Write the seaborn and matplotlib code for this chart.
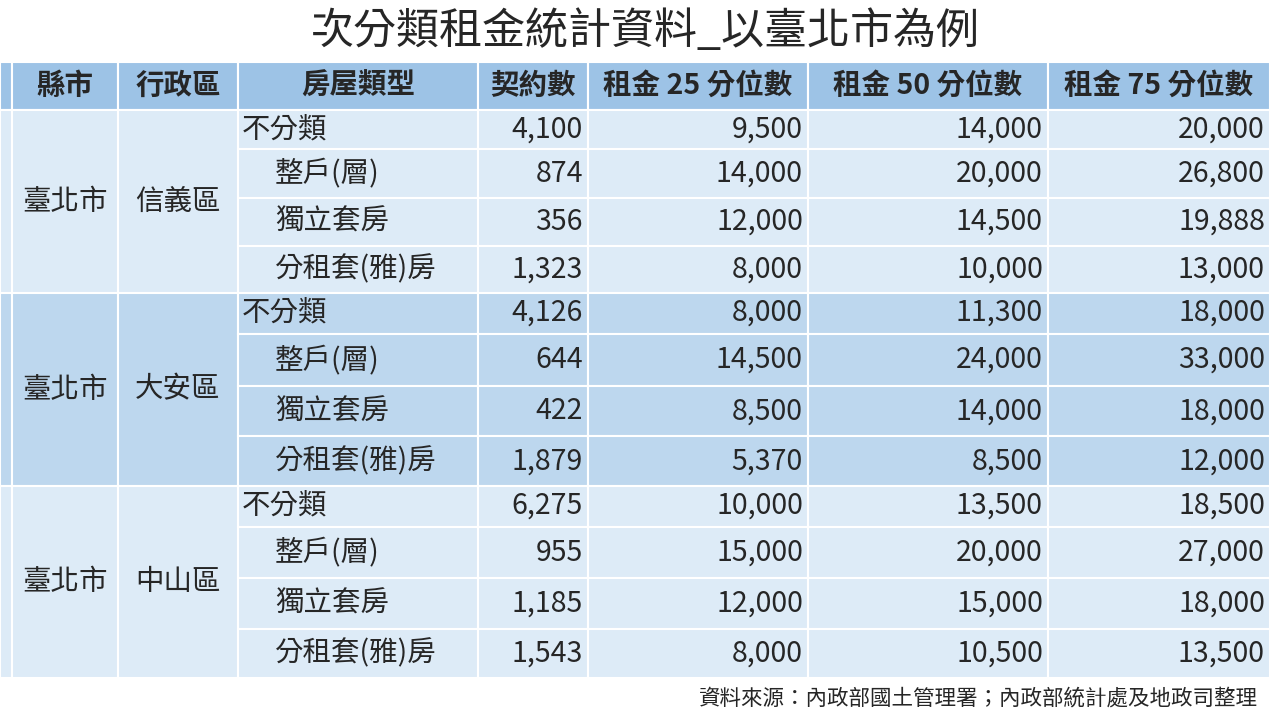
import matplotlib
matplotlib.use("Agg")
import matplotlib.pyplot as plt
import seaborn as sns
from matplotlib.patches import Rectangle

sns.set_style("white")
plt.rcParams['font.family'] = ['Noto Sans CJK TC', 'DejaVu Sans']

title = "次分類租金統計資料_以臺北市為例"
source = "資料來源：內政部國土管理署；內政部統計處及地政司整理"
headers = ["", "縣市", "行政區", "房屋類型", "契約數", "租金 25 分位數", "租金 50 分位數", "租金 75 分位數"]
cities = ["臺北市", "臺北市", "臺北市"]
districts = ["信義區", "大安區", "中山區"]
house_types = ["不分類", "整戶(層)", "獨立套房", "分租套(雅)房"]
contracts = [[4100, 874, 356, 1323], [4126, 644, 422, 1879], [6275, 955, 1185, 1543]]
p25 = [[9500, 14000, 12000, 8000], [8000, 14500, 8500, 5370], [10000, 15000, 12000, 8000]]
p50 = [[14000, 20000, 14500, 10000], [11300, 24000, 14000, 8500], [13500, 20000, 15000, 10500]]
p75 = [[20000, 26800, 19888, 13000], [18000, 33000, 18000, 12000], [18500, 27000, 18000, 13500]]

# layout in pixels
col_x = [0, 12, 118, 238, 478, 588, 808, 1048, 1270]
header_top, header_bot = 62, 110
group_tops = [110, 293, 486, 678]
sub_frac = [0, 39 / 183, 88 / 183, 136 / 183, 1]
c_head, c_light, c_dark = "#9DC3E6", "#DDEBF7", "#BDD7EE"
fs = 20.5

fig = plt.figure(figsize=(12.8, 7.2), dpi=100)
ax = fig.add_axes([0, 0, 1, 1])
ax.set_xlim(0, 1280)
ax.set_ylim(720, 0)
ax.axis("off")

def cell(x0, x1, y0, y1, color):
    ax.add_patch(Rectangle((x0, y0), x1 - x0, y1 - y0, facecolor=color,
                           edgecolor="white", linewidth=1.5))

ax.text(645, 32, title, ha="center", va="center", fontsize=31)

# header
for i, h in enumerate(headers):
    cell(col_x[i], col_x[i + 1], header_top, header_bot, c_head)
    if h:
        ax.text((col_x[i] + col_x[i + 1]) / 2, (header_top + header_bot) / 2, h,
                ha="center", va="center", fontsize=fs, fontweight="bold")

for g in range(3):
    color = c_light if g % 2 == 0 else c_dark
    gt, gb = group_tops[g], group_tops[g + 1]
    for i in range(3):
        cell(col_x[i], col_x[i + 1], gt, gb, color)
    ax.text((col_x[1] + col_x[2]) / 2, (gt + gb) / 2, cities[g], ha="center", va="center", fontsize=fs)
    ax.text((col_x[2] + col_x[3]) / 2, (gt + gb) / 2, districts[g], ha="center", va="center", fontsize=fs)
    ys = [gt + f * (gb - gt) for f in sub_frac]
    for r in range(4):
        y0, y1 = ys[r], ys[r + 1]
        ym = (y0 + y1) / 2 if r > 0 else y0 + 20
        for i in range(3, 8):
            cell(col_x[i], col_x[i + 1], y0, y1, color)
        ax.text(242 if r == 0 else 275, ym, house_types[r], ha="left", va="center", fontsize=fs)
        vals = [contracts[g][r], p25[g][r], p50[g][r], p75[g][r]]
        for k, v in enumerate(vals):
            ax.text(col_x[k + 5] - 5, ym, f"{v:,}", ha="right", va="center", fontsize=fs)

ax.text(1258, 699, source, ha="right", va="center", fontsize=15.5)

fig.savefig("out.png", dpi=100)
